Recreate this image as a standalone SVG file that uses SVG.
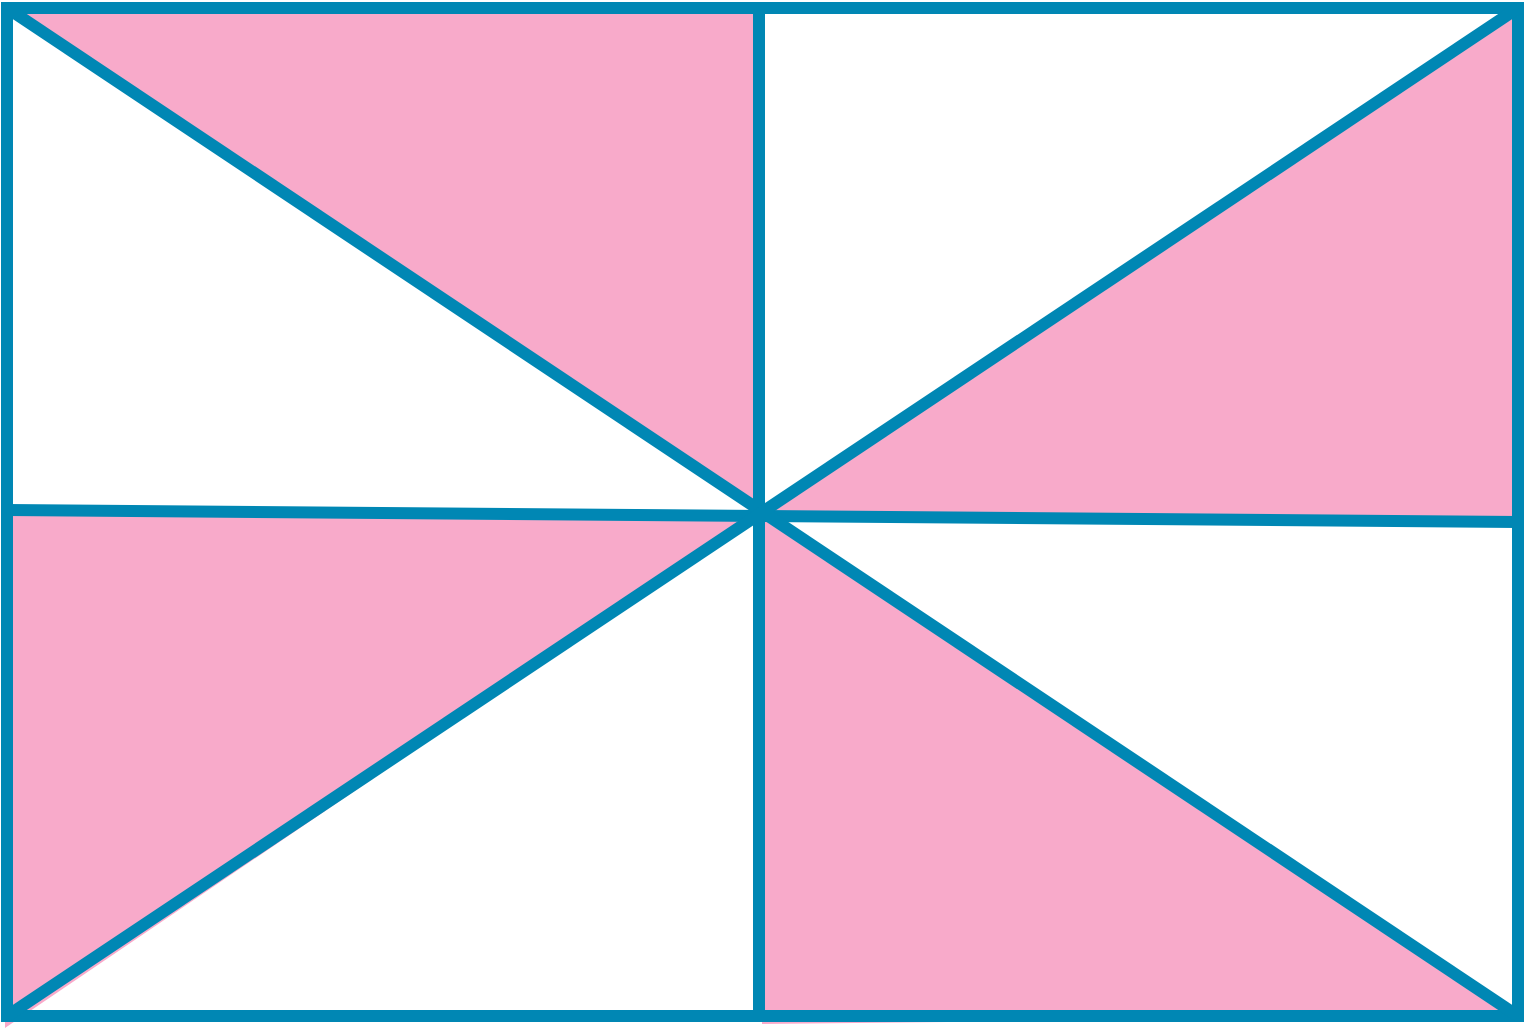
<svg xmlns="http://www.w3.org/2000/svg" width="1526" height="1029" viewBox="0 0 1526 1029">
  <style>
    .pink { fill: #f8aaca; stroke: none; }
    .ln { stroke: #0087b4; stroke-width: 12; fill: none; stroke-linecap: butt; stroke-linejoin: miter; }
  </style>
  <rect x="0" y="0" width="1526" height="1029" fill="#ffffff"/>
  <g id="fills">
    <polygon class="pink" points="7,8 759,8 760,513"/>
    <polygon class="pink" points="1518,8 1518,522 760,513"/>
    <polygon class="pink" points="7,510 760,516 5,1028"/>
    <polygon class="pink" points="760,513 1518,1016 762,1024"/>
  </g>
  <g id="lines">
    <rect class="ln" x="7" y="8" width="1511" height="1008"/>
    <line class="ln" x1="759" y1="8" x2="759" y2="1016"/>
    <line class="ln" x1="7" y1="510" x2="1518" y2="522"/>
    <line class="ln" x1="7" y1="8" x2="1518" y2="1016"/>
    <line class="ln" x1="1518" y1="8" x2="7" y2="1016"/>
  </g>
</svg>
